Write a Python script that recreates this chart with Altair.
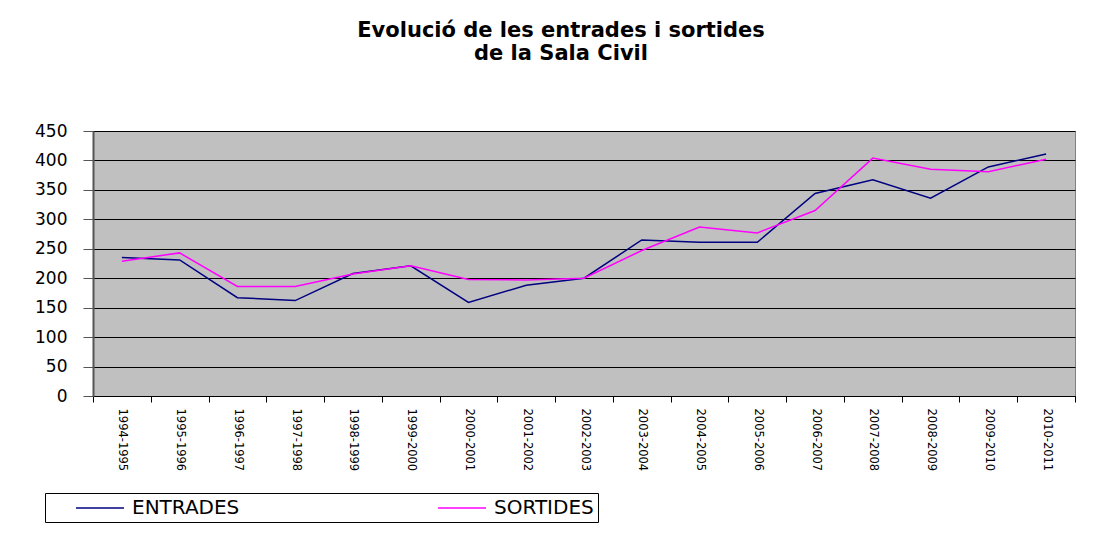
import altair as alt
import pandas as pd

periods = ["1994-1995", "1995-1996", "1996-1997", "1997-1998", "1998-1999",
           "1999-2000", "2000-2001", "2001-2002", "2002-2003", "2003-2004",
           "2004-2005", "2005-2006", "2006-2007", "2007-2008", "2008-2009",
           "2009-2010", "2010-2011"]
entrades = [235, 231, 167, 162, 208, 221, 159, 188, 200, 265, 261, 261, 344, 367, 336, 389, 411]
sortides = [229, 243, 186, 186, 207, 221, 198, 197, 200, 247, 287, 277, 315, 404, 385, 381, 402]
series_names = ["ENTRADES", "SORTIDES"]
series_colors = ["#000080", "#FF00FF"]
y_ticks = [0, 50, 100, 150, 200, 250, 300, 350, 400, 450]

rows = []
for name, vals in zip(series_names, [entrades, sortides]):
    for p, v in zip(periods, vals):
        rows.append({"Període": p, "Sèrie": name, "Valor": v})
df = pd.DataFrame(rows)

FONT = "DejaVu Sans"

chart = alt.Chart(df).mark_line(strokeWidth=1.5).encode(
    x=alt.X("Període:N", sort=periods,
            scale=alt.Scale(type="band", paddingInner=0, paddingOuter=0),
            axis=alt.Axis(title=None, labelAngle=90, labelAlign="left", labelBaseline="middle",
                          labelFont=FONT, labelFontSize=11.5, labelColor="#000000",
                          labelPadding=6, tickSize=6, tickColor="#000000", tickBand="extent",
                          domainColor="#000000", domainWidth=1, grid=False)),
    y=alt.Y("Valor:Q", scale=alt.Scale(domain=[0, 450], nice=False),
            axis=alt.Axis(title=None, values=y_ticks, labelFont=FONT, labelFontSize=17,
                          labelColor="#000000", labelPadding=16, tickSize=10,
                          tickColor="#555555", domainColor="#555555", domainWidth=2,
                          grid=True, gridColor="#000000", gridWidth=1, gridOpacity=1)),
    color=alt.Color("Sèrie:N", sort=series_names,
                    scale=alt.Scale(domain=series_names, range=series_colors),
                    legend=alt.Legend(title=None, orient="none", direction="horizontal",
                                      legendX=-48, legendY=362,
                                      symbolType="M-2.4,0H2.4", symbolSize=400,
                                      symbolStrokeWidth=1.5,
                                      labelFont=FONT, labelFontSize=20, labelColor="#000000",
                                      labelLimit=400, labelOffset=21, columnPadding=171,
                                      padding=4, symbolOffset=40,
                                      strokeColor="#000000", fillColor="#FFFFFF")),
).properties(
    width=982,
    height=265,
    background="#FFFFFF",
    title=alt.TitleParams(
        text=["Evolució de les entrades i sortides", "de la Sala Civil"],
        font=FONT, fontSize=21, fontWeight="bold", color="#000000",
        anchor="middle", offset=58, dx=-23, lineHeight=23,
    ),
    autosize=alt.AutoSizeParams(type="none"),
    padding={"left": 85, "top": 123, "right": 20, "bottom": 140},
).configure_view(
    fill="#C0C0C0", stroke="#808080", strokeWidth=1
)

chart.save("out.html", embed_options={"renderer": "svg", "actions": False})
